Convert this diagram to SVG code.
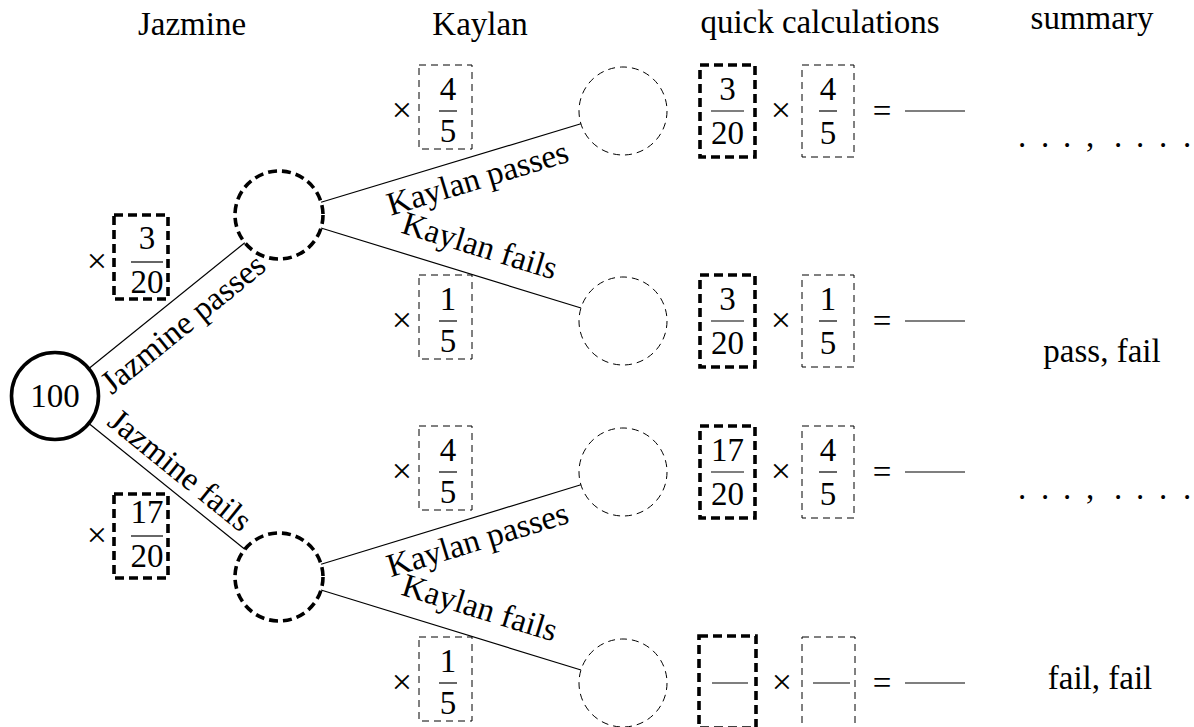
<svg xmlns="http://www.w3.org/2000/svg" width="1194" height="727" viewBox="0 0 1194 727">
<style>
.t{font-family:"Liberation Serif","Times New Roman",serif;font-size:33px;fill:#000;text-anchor:middle}
.x{font-size:36px}
.edge{stroke:#000;stroke-width:1.2;fill:none}
.thick{fill:none;stroke:#000;stroke-width:3.6;stroke-dasharray:9 5}
.thin{fill:none;stroke:#000;stroke-width:1;stroke-dasharray:7 5}
.solid{fill:none;stroke:#000;stroke-width:3.6}
.bar{stroke:#000;stroke-width:1.2}
</style>
<rect width="1194" height="727" fill="#fff"/>

<g id="headers">
<text class="t" x="192" y="35">Jazmine</text>
<text class="t" x="480" y="35">Kaylan</text>
<text class="t" x="820" y="33">quick calculations</text>
<text class="t" x="1092" y="29">summary</text>
</g>

<g id="connectors">
<line class="edge" x1="89.2" y1="368.3" x2="244.8" y2="242.7"/>
<line class="edge" x1="89.2" y1="423.7" x2="244.8" y2="549.3"/>
<line class="edge" x1="321.1" y1="202.3" x2="580.9" y2="123.7"/>
<line class="edge" x1="321.0" y1="228.0" x2="581.0" y2="308.0"/>
<line class="edge" x1="321.1" y1="564.2" x2="580.9" y2="484.8"/>
<line class="edge" x1="321.0" y1="590.0" x2="581.0" y2="670.0"/>
<g transform="translate(167,305.5) rotate(-38.94)"><text class="t" x="1" y="35">Jazmine passes</text></g>
<g transform="translate(167,486.5) rotate(38.94)"><text class="t" x="0" y="-10">Jazmine fails</text></g>
<g transform="translate(451,163) rotate(-16.82)"><text class="t" x="21" y="33">Kaylan passes</text></g>
<g transform="translate(451,268) rotate(17.13)"><text class="t" x="21" y="-19">Kaylan fails</text></g>
<g transform="translate(451,524.5) rotate(-16.97)"><text class="t" x="21" y="33">Kaylan passes</text></g>
<g transform="translate(451,630) rotate(17.13)"><text class="t" x="21" y="-19">Kaylan fails</text></g>
</g>

<g id="root">
<circle class="solid" cx="55" cy="396" r="43.5"/>
<text class="t" x="55" y="407">100</text>
</g>
<g id="jazmine-passes"><circle class="thick" cx="279" cy="215" r="44"/></g>
<g id="jazmine-fails"><circle class="thick" cx="279" cy="577" r="44"/></g>
<g id="kp1"><circle class="thin" cx="623" cy="111" r="44"/></g>
<g id="kf1"><circle class="thin" cx="623" cy="321" r="44"/></g>
<g id="kp2"><circle class="thin" cx="623" cy="472" r="44"/></g>
<g id="kf2"><circle class="thin" cx="623" cy="683" r="44"/></g>

<g id="jazmine-prob-pass">
<text class="t x" x="97" y="273">×</text>
<rect class="thick" x="114" y="215" width="54" height="84"/>
<text class="t" x="147" y="249">3</text>
<line class="bar" x1="131" y1="262" x2="163" y2="262"/>
<text class="t" x="147" y="293">20</text>
</g>
<g id="jazmine-prob-fail">
<text class="t x" x="97" y="547">×</text>
<rect class="thick" x="114" y="494" width="54" height="84"/>
<text class="t" x="147" y="523">17</text>
<line class="bar" x1="131" y1="536" x2="163" y2="536"/>
<text class="t" x="147" y="567">20</text>
</g>

<g id="kaylan-prob-1">
<text class="t x" x="402" y="122">×</text>
<rect class="thin" x="419" y="65" width="53" height="84"/>
<text class="t" x="448" y="100">4</text>
<line class="bar" x1="439" y1="111" x2="457" y2="111"/>
<text class="t" x="448" y="142">5</text>
</g>
<g id="kaylan-prob-2">
<text class="t x" x="402" y="332">×</text>
<rect class="thin" x="419" y="275" width="53" height="84"/>
<text class="t" x="448" y="310">1</text>
<line class="bar" x1="439" y1="321" x2="457" y2="321"/>
<text class="t" x="448" y="352">5</text>
</g>
<g id="kaylan-prob-3">
<text class="t x" x="402" y="483">×</text>
<rect class="thin" x="419" y="426" width="53" height="84"/>
<text class="t" x="448" y="461">4</text>
<line class="bar" x1="439" y1="472" x2="457" y2="472"/>
<text class="t" x="448" y="503">5</text>
</g>
<g id="kaylan-prob-4">
<text class="t x" x="402" y="694">×</text>
<rect class="thin" x="419" y="637" width="53" height="84"/>
<text class="t" x="448" y="672">1</text>
<line class="bar" x1="439" y1="683" x2="457" y2="683"/>
<text class="t" x="448" y="714">5</text>
</g>

<g id="calc-1">
<rect class="thick" x="700" y="65" width="55" height="92"/>
<text class="t" x="727.5" y="100">3</text>
<line class="bar" x1="711" y1="111" x2="744" y2="111"/>
<text class="t" x="727.5" y="144">20</text>
<text class="t x" x="781" y="122">×</text>
<rect class="thin" x="802" y="65" width="52" height="92"/>
<text class="t" x="828" y="100">4</text>
<line class="bar" x1="819" y1="111" x2="837" y2="111"/>
<text class="t" x="828" y="144">5</text>
<text class="t" x="882" y="122">=</text>
<line class="bar" x1="905" y1="111" x2="965" y2="111"/>
</g>
<g id="calc-2">
<rect class="thick" x="700" y="275" width="55" height="92"/>
<text class="t" x="727.5" y="310">3</text>
<line class="bar" x1="711" y1="321" x2="744" y2="321"/>
<text class="t" x="727.5" y="354">20</text>
<text class="t x" x="781" y="332">×</text>
<rect class="thin" x="802" y="275" width="52" height="92"/>
<text class="t" x="828" y="310">1</text>
<line class="bar" x1="819" y1="321" x2="837" y2="321"/>
<text class="t" x="828" y="354">5</text>
<text class="t" x="882" y="332">=</text>
<line class="bar" x1="905" y1="321" x2="965" y2="321"/>
</g>
<g id="calc-3">
<rect class="thick" x="700" y="426" width="55" height="92"/>
<text class="t" x="727.5" y="461">17</text>
<line class="bar" x1="711" y1="472" x2="744" y2="472"/>
<text class="t" x="727.5" y="505">20</text>
<text class="t x" x="781" y="483">×</text>
<rect class="thin" x="802" y="426" width="52" height="92"/>
<text class="t" x="828" y="461">4</text>
<line class="bar" x1="819" y1="472" x2="837" y2="472"/>
<text class="t" x="828" y="505">5</text>
<text class="t" x="882" y="483">=</text>
<line class="bar" x1="905" y1="472" x2="965" y2="472"/>
</g>
<g id="calc-4">
<rect class="thick" x="699" y="636" width="57" height="92"/>
<line class="bar" x1="712" y1="683" x2="748" y2="683"/>
<text class="t x" x="782" y="694">×</text>
<rect class="thin" x="802" y="637" width="53" height="92"/>
<line class="bar" x1="813" y1="683" x2="850" y2="683"/>
<text class="t" x="882" y="694">=</text>
<line class="bar" x1="905" y1="683" x2="965" y2="683"/>
</g>

<g id="summary">
<text class="t" x="1022 1045 1067 1090 1118 1140 1163 1187" y="147">...,....</text>
<text class="t" x="1102" y="362">pass, fail</text>
<text class="t" x="1022 1045 1067 1090 1118 1140 1163 1187" y="499">...,....</text>
<text class="t" x="1100" y="689">fail, fail</text>
</g>
</svg>
